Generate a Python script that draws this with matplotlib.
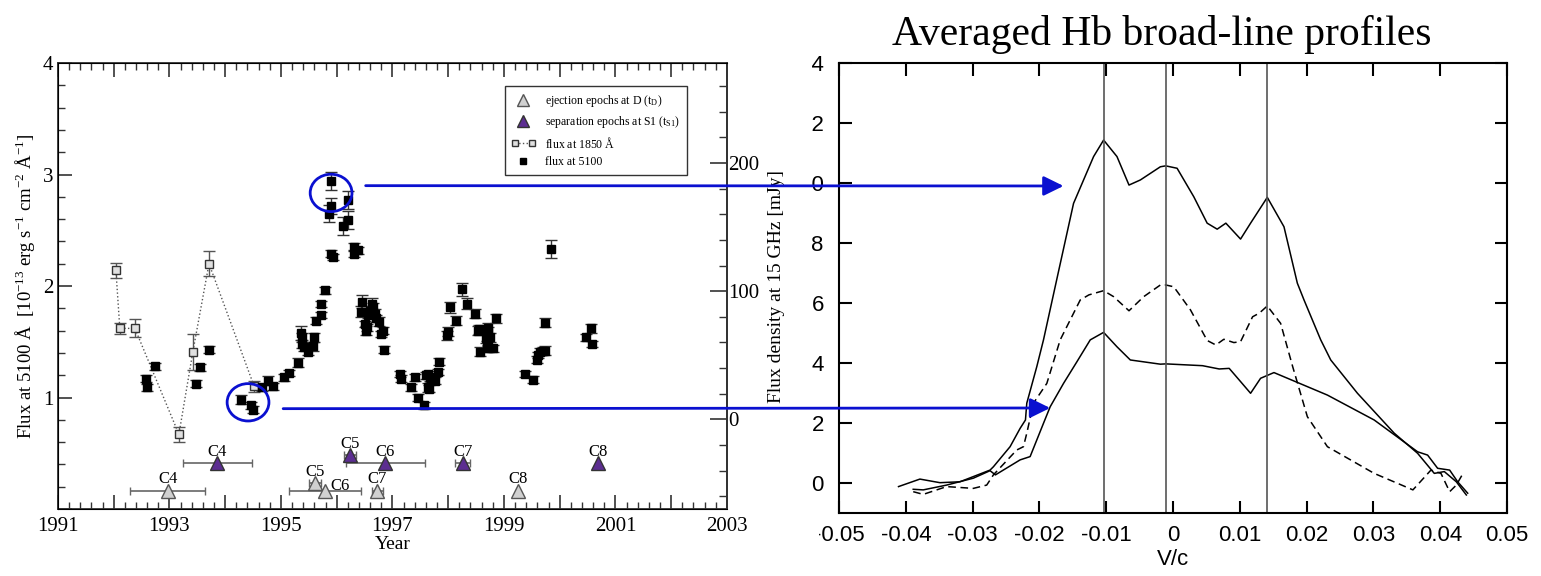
import matplotlib
matplotlib.use("Agg")
import matplotlib.pyplot as plt
from matplotlib.lines import Line2D
from matplotlib.patches import Ellipse, ConnectionPatch
from matplotlib.transforms import Bbox, TransformedBbox
from matplotlib.legend_handler import HandlerLine2D
from matplotlib.ticker import FixedLocator, MultipleLocator

plt.rcParams['font.family'] = ['Liberation Serif', 'DejaVu Serif']
plt.rcParams['mathtext.fontset'] = 'custom'
plt.rcParams['mathtext.rm'] = 'Liberation Serif'
plt.rcParams['mathtext.it'] = 'Liberation Serif:italic'

SANS = ['Liberation Sans', 'DejaVu Sans']
PURPLE = '#5c2d91'
BLUE = '#0a10d0'

# ---------------- left panel: light curves ----------------
uv_year = [1992.04, 1992.11, 1992.38, 1993.17, 1993.42, 1993.71, 1994.52]
uv_flux = [2.14, 1.62, 1.62, 0.67, 1.41, 2.20, 1.10]
uv_err = [0.07, 0.05, 0.08, 0.07, 0.16, 0.11, 0.05]

opt_year = [1992.58, 1992.59, 1992.75, 1993.47, 1993.55, 1993.71, 1994.28, 1994.46,
            1994.50, 1994.66, 1994.77, 1994.86, 1995.06, 1995.14, 1995.31, 1995.36,
            1995.37, 1995.38, 1995.41, 1995.49, 1995.57, 1995.59, 1995.63, 1995.72,
            1995.72, 1995.79, 1995.86, 1995.89, 1995.90, 1995.90, 1995.93, 1996.11,
            1996.20, 1996.21, 1996.31, 1996.31, 1996.39, 1996.43, 1996.45, 1996.51,
            1996.53, 1996.55, 1996.57, 1996.60, 1996.63, 1996.66, 1996.69, 1996.70,
            1996.76, 1996.79, 1996.84, 1996.85, 1997.13, 1997.16, 1997.34, 1997.40,
            1997.46, 1997.57, 1997.61, 1997.63, 1997.64, 1997.66, 1997.67, 1997.70,
            1997.76, 1997.82, 1997.84, 1997.98, 1997.99, 1998.04, 1998.14, 1998.24,
            1998.34, 1998.48, 1998.54, 1998.56, 1998.57, 1998.67, 1998.69, 1998.72,
            1998.72, 1998.72, 1998.72, 1998.75, 1998.80, 1998.86, 1999.38, 1999.52,
            1999.59, 1999.62, 1999.64, 1999.70, 1999.73, 1999.74, 1999.85, 2000.47,
            2000.56, 2000.58]
opt_flux = [1.17, 1.09, 1.28, 1.125, 1.27, 1.43, 0.98, 0.93,
            0.89, 1.09, 1.15, 1.10, 1.18, 1.22, 1.31, 1.58,
            1.54, 1.48, 1.45, 1.41, 1.46, 1.54, 1.69, 1.74,
            1.84, 1.96, 2.65, 2.29, 2.72, 2.94, 2.26, 2.54,
            2.59, 2.77, 2.35, 2.29, 2.32, 1.77, 1.86, 1.66,
            1.60, 1.63, 1.74, 1.78, 1.84, 1.81, 1.75, 1.71,
            1.68, 1.57, 1.60, 1.43, 1.21, 1.17, 1.09, 1.18,
            1.00, 0.93, 1.20, 1.09, 1.21, 1.08, 1.18, 1.17,
            1.15, 1.23, 1.32, 1.56, 1.59, 1.81, 1.69, 1.97,
            1.84, 1.75, 1.60, 1.61, 1.41, 1.53, 1.47, 1.62,
            1.59, 1.50, 1.44, 1.54, 1.44, 1.71, 1.21, 1.16,
            1.34, 1.38, 1.41, 1.42, 1.42, 1.67, 2.33, 1.54,
            1.62, 1.48]
opt_err = [0.03, 0.03, 0.03, 0.03, 0.03, 0.03, 0.04, 0.03,
           0.03, 0.03, 0.04, 0.03, 0.03, 0.03, 0.04, 0.06,
           0.04, 0.04, 0.03, 0.03, 0.04, 0.04, 0.03, 0.03,
           0.03, 0.03, 0.08, 0.03, 0.07, 0.08, 0.03, 0.08,
           0.08, 0.08, 0.04, 0.03, 0.03, 0.05, 0.06, 0.03,
           0.04, 0.03, 0.03, 0.04, 0.05, 0.04, 0.04, 0.03,
           0.04, 0.03, 0.03, 0.03, 0.03, 0.03, 0.03, 0.03,
           0.03, 0.03, 0.03, 0.04, 0.03, 0.03, 0.03, 0.03,
           0.03, 0.03, 0.03, 0.04, 0.04, 0.05, 0.04, 0.06,
           0.05, 0.04, 0.04, 0.04, 0.04, 0.04, 0.04, 0.05,
           0.04, 0.04, 0.03, 0.04, 0.03, 0.04, 0.03, 0.03,
           0.03, 0.03, 0.03, 0.03, 0.04, 0.04, 0.08, 0.03,
           0.04, 0.03]

comp = ['C4', 'C5', 'C6', 'C7', 'C8']
ej_year = [1992.97, 1995.61, 1995.79, 1996.73, 1999.26]
ej_y = [0.16, 0.23, 0.16, 0.16, 0.16]
ej_err = [0.67, 0.10, 0.64, 0.10, 0.0]
sep_year = [1993.86, 1996.24, 1996.87, 1998.26, 2000.69]
sep_y = [0.41, 0.48, 0.41, 0.41, 0.41]
sep_err = [0.62, 0.10, 0.71, 0.14, 0.0]

# ---------------- right panel: line profiles ----------------
top_v = [-0.0411, -0.0379, -0.0349, -0.0319, -0.0274, -0.0269, -0.0244, -0.0229, -0.0221,
         -0.0219, -0.0204, -0.0194, -0.0172, -0.0149, -0.0119, -0.0104, -0.0084, -0.0066,
         -0.0049, -0.0019, -0.0011, 0.0006, 0.0031, 0.0051, 0.0066, 0.0079, 0.0101, 0.0116,
         0.0141, 0.0166, 0.0186, 0.0196, 0.0221, 0.0236, 0.0276, 0.0331, 0.0366, 0.0391,
         0.0406, 0.0424, 0.0439]
top_f = [-0.12, 0.13, 0.01, 0.04, 0.43, 0.54, 1.21, 1.82, 2.10,
         2.66, 3.88, 4.77, 7.00, 9.32, 10.88, 11.43, 10.88, 9.93,
         10.10, 10.54, 10.57, 10.49, 9.54, 8.66, 8.46, 8.66, 8.13, 8.66,
         9.52, 8.54, 6.66, 6.10, 4.77, 4.10, 2.99, 1.66, 0.99, 0.32,
         0.38, 0.04, -0.40]

mid_v = [-0.0389, -0.0374, -0.0339, -0.0299, -0.0279, -0.0269, -0.0234, -0.0224, -0.0219,
         -0.0209, -0.0189, -0.0169, -0.0139, -0.0126, -0.0104, -0.0089, -0.0066, -0.0044,
         -0.0019, -0.0011, 0.0001, 0.0026, 0.0051, 0.0064, 0.0076, 0.0091, 0.0101, 0.0119,
         0.0129, 0.0141, 0.0161, 0.0179, 0.0201, 0.0231, 0.0301, 0.0359, 0.0386, 0.0401,
         0.0414, 0.0424, 0.0434]
mid_f = [-0.29, -0.38, -0.12, -0.18, -0.07, 0.27, 1.10, 1.21, 1.66,
         2.66, 3.32, 4.77, 6.10, 6.27, 6.41, 6.21, 5.74, 6.21,
         6.60, 6.60, 6.54, 5.77, 4.75, 4.60, 4.79, 4.68, 4.71, 5.54,
         5.66, 5.90, 5.32, 3.88, 2.21, 1.21, 0.32, -0.23, 0.43, 0.32,
         -0.29, -0.07, 0.32]

low_v = [-0.0389, -0.0374, -0.0339, -0.0299, -0.0274, -0.0266, -0.0229, -0.0214, -0.0194,
         -0.0184, -0.0164, -0.0144, -0.0124, -0.0104, -0.0084, -0.0064, -0.0019, -0.0011,
         0.0044, 0.0069, 0.0084, 0.0101, 0.0116, 0.0131, 0.0151, 0.0231, 0.0301, 0.0366,
         0.0381, 0.0396, 0.0414, 0.0426, 0.0441]
low_f = [-0.21, -0.23, -0.07, 0.16, 0.41, 0.27, 0.77, 0.88, 1.99,
         2.54, 3.32, 4.04, 4.77, 5.02, 4.54, 4.10, 3.96, 3.97,
         3.91, 3.80, 3.82, 3.38, 2.99, 3.49, 3.68, 2.93, 2.10, 1.04,
         0.93, 0.49, 0.43, 0.04, -0.34]

peak_v = [-0.0104, -0.0011, 0.0141]

fig = plt.figure(figsize=(15.41, 5.76), dpi=100)

# ===== left =====
ax1 = fig.add_axes([0.0376, 0.1163, 0.4341, 0.7743])
ax1.errorbar(uv_year, uv_flux, yerr=uv_err, fmt='s', ls=':', color='#555555', lw=1,
             mfc='#e0e0e0', mec='#333333', ms=6, capsize=4, elinewidth=1, zorder=3)
ax1.errorbar(opt_year, opt_flux, yerr=opt_err, fmt='s', color='black', ms=5.5,
             ecolor='#333333', capsize=4, elinewidth=1, zorder=4)
ax1.errorbar(ej_year, ej_y, xerr=ej_err, fmt='^', ms=10, mfc='#d0d0d0', mec='#555555',
             ecolor='#666666', capsize=3, elinewidth=1.2, zorder=4)
ax1.errorbar(sep_year, sep_y, xerr=sep_err, fmt='^', ms=10, mfc=PURPLE, mec='#333333',
             ecolor='#666666', capsize=3, elinewidth=1.2, zorder=4)
for i, c in enumerate(comp):
    if c == 'C6':
        ax1.text(ej_year[i] + 0.09, ej_y[i] + 0.05, c, fontsize=12, ha='left', va='center')
    else:
        ax1.text(ej_year[i], ej_y[i] + 0.105, c, fontsize=12, ha='center', va='center')
    ax1.text(sep_year[i], sep_y[i] + 0.105, c, fontsize=12, ha='center', va='center')

ax1.set_xlim(1991, 2003)
ax1.set_ylim(0, 4)
ax1.xaxis.set_major_locator(FixedLocator(range(1991, 2004)))
ax1.set_xticklabels([str(y) if y % 2 == 1 else '' for y in range(1991, 2004)])
ax1.xaxis.set_minor_locator(MultipleLocator(0.2))
ax1.set_yticks([0, 1, 2, 3, 4])
ax1.set_yticklabels(['', '1', '2', '3', '4'])
ax1.yaxis.set_minor_locator(MultipleLocator(0.2))
ax1.tick_params(which='both', direction='in', top=True, right=False, labelsize=15,
                color='#333333')
ax1.tick_params(which='major', length=10, width=1.2)
ax1.tick_params(which='minor', length=5, width=1)
ax1.tick_params(axis='x', pad=6)
for s in ax1.spines.values():
    s.set_color('#333333')
    s.set_linewidth(1.3)
ax1.set_xlabel('Year', fontsize=14, labelpad=0)
ax1.set_ylabel(r'Flux at 5100 $\rm\AA$  [10$^{-13}$ erg s$^{-1}$ cm$^{-2}$ $\rm\AA^{-1}$]',
               fontsize=13.5, labelpad=4)

ax1r = ax1.twinx()
ax1r.set_ylim(-70, 278)
ax1r.set_yticks([0, 100, 200])
ax1r.yaxis.set_minor_locator(MultipleLocator(20))
ax1r.tick_params(which='both', direction='in', labelsize=15, pad=1, color='#333333')
ax1r.tick_params(which='major', length=12, width=1.2)
ax1r.tick_params(which='minor', length=6, width=1)
ax1r.spines['right'].set_color('#333333')
ax1r.spines['right'].set_linewidth(1.3)
ax1r.set_ylabel('Flux density at 15 GHz [mJy]', fontsize=14, labelpad=6)

h_ej = Line2D([], [], marker='^', ls='none', mfc='#d0d0d0', mec='#555555', ms=8)
h_sep = Line2D([], [], marker='^', ls='none', mfc=PURPLE, mec='#333333', ms=8)
h_uv = Line2D([], [], marker='s', ls=':', color='#555555', lw=1, mfc='#e0e0e0',
              mec='#333333', ms=4.5)
h_opt = Line2D([], [], marker='s', ls='none', color='black', ms=4.5)
leg = ax1.legend([h_ej, h_sep, h_uv, h_opt],
                 [r'ejection epochs at D (t$_{\rm D}$)',
                  r'separation epochs at S1 (t$_{\rm S1}$)',
                  r'flux at 1850 $\rm\AA$', 'flux at 5100'],
                 handler_map={h_uv: HandlerLine2D(numpoints=2)}, numpoints=1,
                 loc='upper right', bbox_to_anchor=(0.949, 0.962), fontsize=8.5,
                 handlelength=2, fancybox=False, framealpha=1, edgecolor='#333333',
                 borderpad=0.6, labelspacing=0.45)
leg.get_frame().set_linewidth(1)
leg.set_zorder(6)

# ===== right =====
ax2 = fig.add_axes([0.5445, 0.1094, 0.4335, 0.7813])
ax2.plot(top_v, top_f, color='black', lw=1.1)
ax2.plot(mid_v, mid_f, color='black', lw=1.1, ls=(0, (5, 3)))
ax2.plot(low_v, low_f, color='black', lw=1.1)
for v in peak_v:
    ax2.axvline(v, color='#555555', lw=1.2)
ax2.set_xlim(-0.05, 0.05)
ax2.set_ylim(-1, 14)
ax2.set_xticks([-0.05, -0.04, -0.03, -0.02, -0.01, 0, 0.01, 0.02, 0.03, 0.04, 0.05])
ax2.set_xticklabels(['-0.05', '-0.04', '-0.03', '-0.02', '-0.01', '0', '0.01', '0.02',
                     '0.03', '0.04', '0.05'], family=SANS)
ax2.set_yticks(range(0, 15, 2))
ax2.set_yticklabels([str(v) for v in range(0, 15, 2)], family=SANS)
ax2.tick_params(direction='in', top=True, right=True, length=9, width=1.5, labelsize=16)
ax2.tick_params(axis='x', pad=9)
ax2.tick_params(axis='y', pad=11)
for s in ax2.spines.values():
    s.set_linewidth(1.5)
ax2.set_xlabel('V/c', fontsize=16, family=SANS, labelpad=2)
ax2.set_title('Averaged Hb broad-line profiles', fontsize=30, pad=13, x=0.4835)

# right panel labels are cut by the left image
clip_y = TransformedBbox(Bbox.from_extents(812 / 1541, 0, 1, 1), fig.transFigure)
clip_x = TransformedBbox(Bbox.from_extents(819 / 1541, 0, 1, 1), fig.transFigure)
for lab in ax2.get_yticklabels():
    lab.set_clip_on(True)
    lab.set_clip_box(clip_y)
for lab in ax2.get_xticklabels():
    lab.set_clip_on(True)
    lab.set_clip_box(clip_x)

# ===== annotations =====
for cx, cy in [(1995.90, 2.835), (1994.41, 0.957)]:
    ax1.add_patch(Ellipse((cx, cy), 0.75, 0.335, fill=False, ec=BLUE, lw=2, zorder=7))

arrows = [((1996.52, 2.90), (-0.0164, 9.9)), ((1995.04, 0.90), (-0.0184, 2.5))]
for a, b in arrows:
    con = ConnectionPatch(xyA=a, coordsA=ax1.transData, xyB=b, coordsB=ax2.transData,
                          arrowstyle='-|>,head_length=0.55,head_width=0.27',
                          mutation_scale=22, color=BLUE, lw=2, shrinkA=0, shrinkB=0)
    con.set_zorder(10)
    fig.add_artist(con)

fig.savefig('out.png', dpi=100)
